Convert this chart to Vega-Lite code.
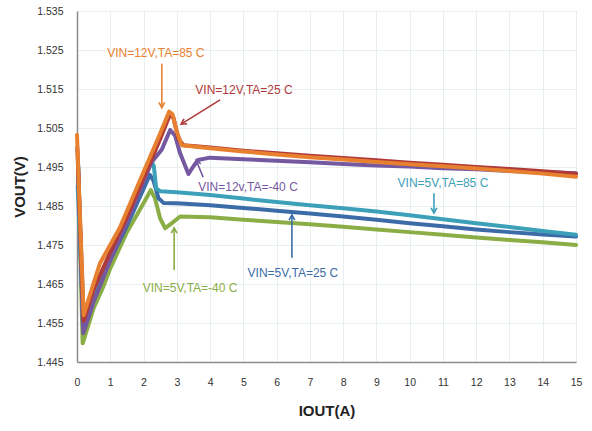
{
  "$schema": "https://vega.github.io/schema/vega-lite/v6.json",
  "width": 499,
  "height": 351,
  "autosize": {"type": "none"},
  "padding": {"left": 77, "top": 11, "right": 16, "bottom": 69},
  "background": "white",
  "config": {
    "view": {"stroke": "#a6a6a6", "strokeWidth": 1},
    "font": "Liberation Sans",
    "axis": {
      "labelFont": "Liberation Sans",
      "labelFontSize": 10.5,
      "labelColor": "#333333",
      "labelOverlap": false,
      "gridColor": "#e6eeee",
      "gridWidth": 1,
      "domainColor": "#8c8c8c",
      "domainWidth": 1.5,
      "ticks": false,
      "titleFont": "Liberation Sans",
      "titleFontSize": 15,
      "titleFontWeight": "bold",
      "titleColor": "#222222"
    }
  },
  "datasets": {
    "curves": [
      {"series": "5V -40C", "I": 0.03, "V": 1.496},
      {"series": "5V -40C", "I": 0.17, "V": 1.4498},
      {"series": "5V -40C", "I": 0.5, "V": 1.4588},
      {"series": "5V -40C", "I": 0.79, "V": 1.4643},
      {"series": "5V -40C", "I": 1.0, "V": 1.4690},
      {"series": "5V -40C", "I": 1.5, "V": 1.4783},
      {"series": "5V -40C", "I": 2.0, "V": 1.4857},
      {"series": "5V -40C", "I": 2.22, "V": 1.4891},
      {"series": "5V -40C", "I": 2.35, "V": 1.4868},
      {"series": "5V -40C", "I": 2.5, "V": 1.4818},
      {"series": "5V -40C", "I": 2.65, "V": 1.4793},
      {"series": "5V -40C", "I": 2.85, "V": 1.4806},
      {"series": "5V -40C", "I": 3.1, "V": 1.4823},
      {"series": "5V -40C", "I": 4, "V": 1.4821},
      {"series": "5V -40C", "I": 5, "V": 1.4815},
      {"series": "5V -40C", "I": 6, "V": 1.4809},
      {"series": "5V -40C", "I": 7, "V": 1.4803},
      {"series": "5V -40C", "I": 8, "V": 1.4797},
      {"series": "5V -40C", "I": 9, "V": 1.4790},
      {"series": "5V -40C", "I": 10, "V": 1.4783},
      {"series": "5V -40C", "I": 11, "V": 1.4776},
      {"series": "5V -40C", "I": 12, "V": 1.4769},
      {"series": "5V -40C", "I": 13, "V": 1.4763},
      {"series": "5V -40C", "I": 14, "V": 1.4757},
      {"series": "5V -40C", "I": 15, "V": 1.4750},

      {"series": "5V 25C", "I": 0.03, "V": 1.496},
      {"series": "5V 25C", "I": 0.18, "V": 1.4540},
      {"series": "5V 25C", "I": 0.5, "V": 1.4617},
      {"series": "5V 25C", "I": 1.0, "V": 1.4712},
      {"series": "5V 25C", "I": 1.44, "V": 1.4788},
      {"series": "5V 25C", "I": 2.0, "V": 1.4894},
      {"series": "5V 25C", "I": 2.19, "V": 1.4930},
      {"series": "5V 25C", "I": 2.3, "V": 1.4915},
      {"series": "5V 25C", "I": 2.45, "V": 1.4870},
      {"series": "5V 25C", "I": 2.6, "V": 1.4858},
      {"series": "5V 25C", "I": 3, "V": 1.4857},
      {"series": "5V 25C", "I": 4, "V": 1.4852},
      {"series": "5V 25C", "I": 5, "V": 1.4845},
      {"series": "5V 25C", "I": 6, "V": 1.4838},
      {"series": "5V 25C", "I": 7, "V": 1.4831},
      {"series": "5V 25C", "I": 8, "V": 1.4823},
      {"series": "5V 25C", "I": 9, "V": 1.4815},
      {"series": "5V 25C", "I": 10, "V": 1.4806},
      {"series": "5V 25C", "I": 11, "V": 1.4798},
      {"series": "5V 25C", "I": 12, "V": 1.4790},
      {"series": "5V 25C", "I": 13, "V": 1.4783},
      {"series": "5V 25C", "I": 14, "V": 1.4777},
      {"series": "5V 25C", "I": 15, "V": 1.4772},

      {"series": "5V 85C", "I": 0.02, "V": 1.490},
      {"series": "5V 85C", "I": 0.19, "V": 1.4556},
      {"series": "5V 85C", "I": 0.5, "V": 1.4628},
      {"series": "5V 85C", "I": 1.0, "V": 1.4722},
      {"series": "5V 85C", "I": 1.34, "V": 1.4788},
      {"series": "5V 85C", "I": 2.0, "V": 1.4917},
      {"series": "5V 85C", "I": 2.24, "V": 1.4964},
      {"series": "5V 85C", "I": 2.31, "V": 1.4952},
      {"series": "5V 85C", "I": 2.38, "V": 1.4895},
      {"series": "5V 85C", "I": 2.5, "V": 1.4888},
      {"series": "5V 85C", "I": 3, "V": 1.4885},
      {"series": "5V 85C", "I": 4, "V": 1.4878},
      {"series": "5V 85C", "I": 5, "V": 1.4869},
      {"series": "5V 85C", "I": 6, "V": 1.4860},
      {"series": "5V 85C", "I": 7, "V": 1.4852},
      {"series": "5V 85C", "I": 8, "V": 1.4844},
      {"series": "5V 85C", "I": 9, "V": 1.4836},
      {"series": "5V 85C", "I": 10, "V": 1.4826},
      {"series": "5V 85C", "I": 11, "V": 1.4816},
      {"series": "5V 85C", "I": 12, "V": 1.4806},
      {"series": "5V 85C", "I": 13, "V": 1.4796},
      {"series": "5V 85C", "I": 14, "V": 1.4786},
      {"series": "5V 85C", "I": 15, "V": 1.4776},

      {"series": "12V -40C", "I": 0.03, "V": 1.496},
      {"series": "12V -40C", "I": 0.19, "V": 1.4524},
      {"series": "12V -40C", "I": 0.5, "V": 1.4605},
      {"series": "12V -40C", "I": 1.0, "V": 1.4710},
      {"series": "12V -40C", "I": 1.5, "V": 1.4810},
      {"series": "12V -40C", "I": 2.0, "V": 1.4912},
      {"series": "12V -40C", "I": 2.24, "V": 1.4962},
      {"series": "12V -40C", "I": 2.55, "V": 1.4995},
      {"series": "12V -40C", "I": 2.8, "V": 1.5045},
      {"series": "12V -40C", "I": 2.95, "V": 1.5030},
      {"series": "12V -40C", "I": 3.1, "V": 1.4985},
      {"series": "12V -40C", "I": 3.35, "V": 1.4932},
      {"series": "12V -40C", "I": 3.5, "V": 1.4952},
      {"series": "12V -40C", "I": 3.64, "V": 1.4968},
      {"series": "12V -40C", "I": 4, "V": 1.4974},
      {"series": "12V -40C", "I": 5, "V": 1.4970},
      {"series": "12V -40C", "I": 6, "V": 1.4966},
      {"series": "12V -40C", "I": 7, "V": 1.4962},
      {"series": "12V -40C", "I": 8, "V": 1.4958},
      {"series": "12V -40C", "I": 9, "V": 1.4954},
      {"series": "12V -40C", "I": 10, "V": 1.4951},
      {"series": "12V -40C", "I": 11, "V": 1.4947},
      {"series": "12V -40C", "I": 12, "V": 1.4944},
      {"series": "12V -40C", "I": 13, "V": 1.4940},
      {"series": "12V -40C", "I": 14, "V": 1.4937},
      {"series": "12V -40C", "I": 15, "V": 1.4934},

      {"series": "12V 25C", "I": 0.01, "V": 1.500},
      {"series": "12V 25C", "I": 0.2, "V": 1.4556},
      {"series": "12V 25C", "I": 0.5, "V": 1.4636},
      {"series": "12V 25C", "I": 1.0, "V": 1.4732},
      {"series": "12V 25C", "I": 1.5, "V": 1.4822},
      {"series": "12V 25C", "I": 2.0, "V": 1.4922},
      {"series": "12V 25C", "I": 2.5, "V": 1.5022},
      {"series": "12V 25C", "I": 2.79, "V": 1.5084},
      {"series": "12V 25C", "I": 2.9, "V": 1.5076},
      {"series": "12V 25C", "I": 3.05, "V": 1.5022},
      {"series": "12V 25C", "I": 3.2, "V": 1.5006},
      {"series": "12V 25C", "I": 4, "V": 1.5000},
      {"series": "12V 25C", "I": 5, "V": 1.4992},
      {"series": "12V 25C", "I": 6, "V": 1.4985},
      {"series": "12V 25C", "I": 7, "V": 1.4979},
      {"series": "12V 25C", "I": 8, "V": 1.4973},
      {"series": "12V 25C", "I": 9, "V": 1.4967},
      {"series": "12V 25C", "I": 10, "V": 1.4961},
      {"series": "12V 25C", "I": 11, "V": 1.4956},
      {"series": "12V 25C", "I": 12, "V": 1.4950},
      {"series": "12V 25C", "I": 13, "V": 1.4945},
      {"series": "12V 25C", "I": 14, "V": 1.4939},
      {"series": "12V 25C", "I": 15, "V": 1.4933},

      {"series": "12V 85C", "I": 0, "V": 1.5032},
      {"series": "12V 85C", "I": 0.2, "V": 1.4570},
      {"series": "12V 85C", "I": 0.5, "V": 1.4652},
      {"series": "12V 85C", "I": 0.69, "V": 1.4703},
      {"series": "12V 85C", "I": 1.29, "V": 1.4795},
      {"series": "12V 85C", "I": 2.0, "V": 1.4937},
      {"series": "12V 85C", "I": 2.5, "V": 1.5036},
      {"series": "12V 85C", "I": 2.77, "V": 1.5092},
      {"series": "12V 85C", "I": 2.87, "V": 1.5085},
      {"series": "12V 85C", "I": 3.0, "V": 1.5040},
      {"series": "12V 85C", "I": 3.15, "V": 1.5006},
      {"series": "12V 85C", "I": 4, "V": 1.4998},
      {"series": "12V 85C", "I": 5, "V": 1.4990},
      {"series": "12V 85C", "I": 6, "V": 1.4982},
      {"series": "12V 85C", "I": 7, "V": 1.4975},
      {"series": "12V 85C", "I": 8, "V": 1.4969},
      {"series": "12V 85C", "I": 9, "V": 1.4963},
      {"series": "12V 85C", "I": 10, "V": 1.4957},
      {"series": "12V 85C", "I": 11, "V": 1.4952},
      {"series": "12V 85C", "I": 12, "V": 1.4946},
      {"series": "12V 85C", "I": 13, "V": 1.4940},
      {"series": "12V 85C", "I": 14, "V": 1.4933},
      {"series": "12V 85C", "I": 15, "V": 1.4925}
    ],
    "notes": [
      {"series": "12V 85C", "label": "VIN=12V,TA=85 C", "lx": 2.37, "ly": 1.5242, "x1": 2.55, "y1": 1.5215, "x2": 2.55, "y2": 1.5102, "ang": 0},
      {"series": "12V 25C", "label": "VIN=12V,TA=25 C", "lx": 5.02, "ly": 1.5147, "x1": 4.30, "y1": 1.5122, "x2": 3.13, "y2": 1.5060, "ang": 58},
      {"series": "12V -40C", "label": "VIN=12v,TA=-40 C", "lx": 5.14, "ly": 1.4899, "x1": 3.79, "y1": 1.4924, "x2": 3.58, "y2": 1.4968, "ang": 158},
      {"series": "5V 85C", "label": "VIN=5V,TA=85 C", "lx": 11.0, "ly": 1.4909, "x1": 10.73, "y1": 1.4883, "x2": 10.73, "y2": 1.4832, "ang": 0},
      {"series": "5V 25C", "label": "VIN=5V,TA=25 C", "lx": 6.49, "ly": 1.4678, "x1": 6.46, "y1": 1.4717, "x2": 6.46, "y2": 1.4827, "ang": 180},
      {"series": "5V -40C", "label": "VIN=5V,TA=-40 C", "lx": 3.40, "ly": 1.4640, "x1": 2.92, "y1": 1.4686, "x2": 2.92, "y2": 1.4794, "ang": 180}
    ]
  },
  "layer": [
    {
      "data": {"name": "curves"},
      "mark": {"type": "line", "strokeWidth": 4, "strokeJoin": "round", "strokeCap": "round"},
      "encoding": {
        "x": {
          "field": "I", "type": "quantitative",
          "scale": {"domain": [0, 15], "nice": false},
          "axis": {
            "title": "IOUT(A)",
            "values": [0,1,2,3,4,5,6,7,8,9,10,11,12,13,14,15],
            "tickCount": 30,
            "format": "d",
            "labelOverlap": false,
            "labelPadding": 15,
            "titlePadding": 16,
            "labelFlush": false
          }
        },
        "y": {
          "field": "V", "type": "quantitative",
          "scale": {"domain": [1.445, 1.535], "nice": false, "zero": false},
          "axis": {
            "title": "VOUT(V)",
            "values": [1.445,1.455,1.465,1.475,1.485,1.495,1.505,1.515,1.525,1.535],
            "tickCount": 20,
            "labelOverlap": false,
            "format": ".3f",
            "labelPadding": 14,
            "titlePadding": 9,
            "labelFlush": false
          }
        },
        "color": {
          "field": "series", "type": "nominal",
          "scale": {
            "domain": ["5V -40C", "5V 25C", "5V 85C", "12V -40C", "12V 25C", "12V 85C"],
            "range": ["#8aae45", "#3c6ca8", "#3ba0b8", "#7458a0", "#b03a3a", "#e8812f"]
          },
          "legend": null
        },
        "order": {"field": "I", "type": "quantitative"}
      }
    },
    {
      "data": {"name": "notes"},
      "mark": {"type": "rule", "strokeWidth": 1.6},
      "encoding": {
        "x": {"field": "x1", "type": "quantitative"},
        "y": {"field": "y1", "type": "quantitative"},
        "x2": {"field": "x2"},
        "y2": {"field": "y2"},
        "color": {
          "field": "series", "type": "nominal",
          "scale": {
            "domain": ["5V -40C", "5V 25C", "5V 85C", "12V -40C", "12V 25C", "12V 85C"],
            "range": ["#7cc04e", "#3d7cc9", "#30aee8", "#7048a0", "#c0283c", "#f28a30"]
          },
          "legend": null
        }
      }
    },
    {
      "data": {"name": "notes"},
      "mark": {"type": "point", "shape": "M-0.55,-1L0,0L0.55,-1", "filled": false, "size": 110, "strokeWidth": 1.6, "opacity": 1},
      "encoding": {
        "x": {"field": "x2", "type": "quantitative"},
        "y": {"field": "y2", "type": "quantitative"},
        "angle": {"field": "ang", "type": "quantitative", "scale": null},
        "color": {
          "field": "series", "type": "nominal",
          "scale": {
            "domain": ["5V -40C", "5V 25C", "5V 85C", "12V -40C", "12V 25C", "12V 85C"],
            "range": ["#7cc04e", "#3d7cc9", "#30aee8", "#7048a0", "#c0283c", "#f28a30"]
          },
          "legend": null
        }
      }
    },
    {
      "data": {"name": "notes"},
      "mark": {"type": "text", "fontSize": 12, "align": "center", "baseline": "middle", "font": "Liberation Sans"},
      "encoding": {
        "x": {"field": "lx", "type": "quantitative"},
        "y": {"field": "ly", "type": "quantitative"},
        "text": {"field": "label"},
        "color": {
          "field": "series", "type": "nominal",
          "scale": {
            "domain": ["5V -40C", "5V 25C", "5V 85C", "12V -40C", "12V 25C", "12V 85C"],
            "range": ["#7cc04e", "#3d7cc9", "#30aee8", "#7048a0", "#c0283c", "#f28a30"]
          },
          "legend": null
        }
      }
    }
  ]
}
